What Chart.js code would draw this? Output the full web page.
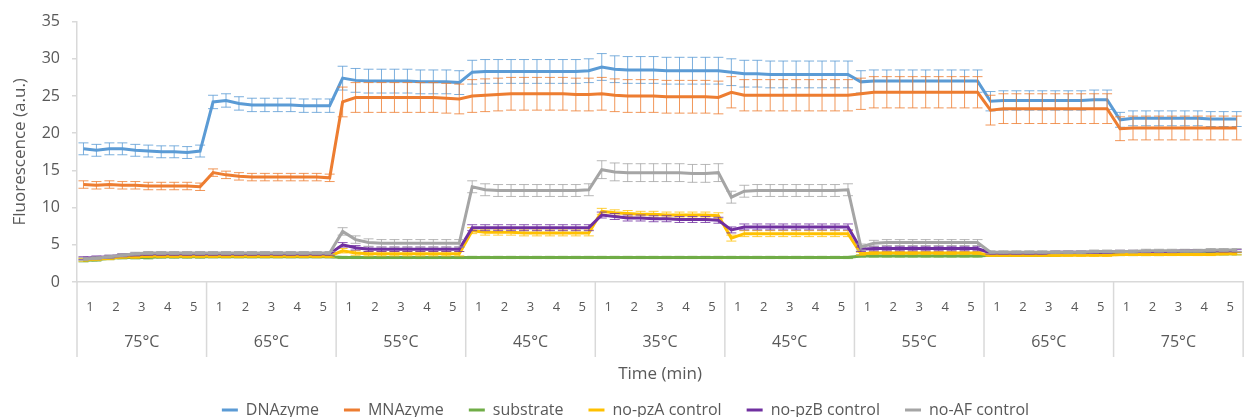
<!DOCTYPE html>
<html>
<head>
<meta charset="utf-8">
<script src="https://cdn.jsdelivr.net/npm/chart.js@4.4.1/dist/chart.umd.min.js"></script>
<style>
  html, body { margin: 0; padding: 0; background: #fff; overflow: hidden; }
  #wrap { position: relative; width: 1251px; height: 417px; }
</style>
</head>
<body>
<div id="wrap"><canvas id="chart"></canvas></div>
<script>
// temperature steps (outer axis level) and minutes inside each step (inner level)
const tempLabels = ['75°C', '65°C', '55°C', '45°C', '35°C', '45°C', '55°C', '65°C', '75°C'];
const minuteLabels = ['1', '2', '3', '4', '5'];
const readsPerMinute = ['a', 'b'];

const seriesNames = ['DNAzyme', 'MNAzyme', 'substrate', 'no-pzA control', 'no-pzB control', 'no-AF control'];

// one row per temperature step, two reads per minute
const dnazyme = [
  17.9, 17.7, 17.9, 17.9, 17.7, 17.6, 17.5, 17.5, 17.4, 17.6,
  24.2, 24.4, 24.0, 23.8, 23.8, 23.8, 23.8, 23.7, 23.7, 23.7,
  27.4, 27.1, 27.0, 27.0, 27.0, 27.0, 26.9, 26.9, 26.9, 26.8,
  28.2, 28.3, 28.3, 28.3, 28.3, 28.3, 28.3, 28.3, 28.3, 28.4,
  28.9, 28.6, 28.5, 28.5, 28.5, 28.4, 28.4, 28.4, 28.4, 28.4,
  28.2, 28.0, 28.0, 27.9, 27.9, 27.9, 27.9, 27.9, 27.9, 27.9,
  26.9, 27.0, 27.0, 27.0, 27.0, 27.0, 27.0, 27.0, 27.0, 27.0,
  24.3, 24.4, 24.4, 24.4, 24.4, 24.4, 24.4, 24.4, 24.5, 24.5,
  21.8, 22.0, 22.0, 22.0, 22.0, 22.0, 22.0, 21.9, 21.9, 21.9
];
const mnazyme = [
  13.1, 13.0, 13.1, 13.0, 13.0, 12.9, 12.9, 12.9, 12.9, 12.8,
  14.7, 14.4, 14.2, 14.1, 14.1, 14.1, 14.1, 14.1, 14.1, 14.0,
  24.2, 24.8, 24.8, 24.8, 24.8, 24.8, 24.8, 24.8, 24.7, 24.6,
  25.0, 25.1, 25.2, 25.3, 25.3, 25.3, 25.3, 25.3, 25.2, 25.2,
  25.3, 25.1, 25.0, 25.0, 25.0, 24.9, 24.9, 24.9, 24.9, 24.8,
  25.5, 25.1, 25.1, 25.1, 25.1, 25.1, 25.1, 25.1, 25.1, 25.1,
  25.3, 25.5, 25.5, 25.5, 25.5, 25.5, 25.5, 25.5, 25.5, 25.5,
  23.1, 23.3, 23.3, 23.3, 23.3, 23.3, 23.3, 23.3, 23.3, 23.3,
  20.6, 20.7, 20.7, 20.7, 20.7, 20.7, 20.7, 20.7, 20.7, 20.7
];
const substrate = [
  2.9, 3.0, 3.2, 3.3, 3.3, 3.3, 3.4, 3.4, 3.4, 3.4,
  3.4, 3.4, 3.4, 3.4, 3.4, 3.4, 3.4, 3.4, 3.4, 3.4,
  3.3, 3.3, 3.3, 3.3, 3.3, 3.3, 3.3, 3.3, 3.3, 3.3,
  3.3, 3.3, 3.3, 3.3, 3.3, 3.3, 3.3, 3.3, 3.3, 3.3,
  3.3, 3.3, 3.3, 3.3, 3.3, 3.3, 3.3, 3.3, 3.3, 3.3,
  3.3, 3.3, 3.3, 3.3, 3.3, 3.3, 3.3, 3.3, 3.3, 3.3,
  3.5, 3.5, 3.5, 3.5, 3.5, 3.5, 3.5, 3.5, 3.5, 3.5,
  3.6, 3.6, 3.6, 3.6, 3.6, 3.6, 3.7, 3.7, 3.7, 3.7,
  3.7, 3.7, 3.7, 3.7, 3.8, 3.8, 3.8, 3.8, 3.8, 3.8
];
const noPzA = [
  3.0, 3.1, 3.2, 3.4, 3.4, 3.5, 3.5, 3.5, 3.5, 3.5,
  3.5, 3.5, 3.5, 3.5, 3.5, 3.5, 3.5, 3.5, 3.5, 3.5,
  4.2, 3.9, 3.8, 3.8, 3.8, 3.8, 3.8, 3.8, 3.8, 3.8,
  6.9, 6.7, 6.7, 6.7, 6.6, 6.6, 6.6, 6.6, 6.6, 6.6,
  9.5, 9.3, 9.2, 9.1, 9.1, 9.0, 9.0, 9.0, 9.0, 8.9,
  5.9, 6.5, 6.5, 6.5, 6.5, 6.5, 6.5, 6.5, 6.5, 6.5,
  3.8, 3.9, 3.9, 3.9, 3.9, 3.9, 3.9, 3.9, 3.9, 3.9,
  3.6, 3.6, 3.6, 3.6, 3.6, 3.6, 3.6, 3.6, 3.6, 3.6,
  3.7, 3.7, 3.7, 3.7, 3.7, 3.7, 3.7, 3.7, 3.8, 3.8
];
const noPzB = [
  3.2, 3.3, 3.4, 3.6, 3.7, 3.8, 3.8, 3.8, 3.8, 3.8,
  3.8, 3.8, 3.8, 3.8, 3.8, 3.8, 3.8, 3.8, 3.8, 3.8,
  5.0, 4.6, 4.4, 4.4, 4.4, 4.4, 4.4, 4.4, 4.4, 4.4,
  7.3, 7.3, 7.3, 7.3, 7.3, 7.3, 7.3, 7.3, 7.3, 7.3,
  9.0, 8.8, 8.6, 8.6, 8.5, 8.5, 8.4, 8.4, 8.4, 8.3,
  7.0, 7.4, 7.4, 7.4, 7.4, 7.4, 7.4, 7.4, 7.4, 7.4,
  4.4, 4.5, 4.5, 4.5, 4.5, 4.5, 4.5, 4.5, 4.5, 4.5,
  3.9, 3.9, 3.9, 3.9, 3.9, 4.0, 4.0, 4.0, 4.0, 4.0,
  4.1, 4.1, 4.1, 4.1, 4.1, 4.2, 4.2, 4.2, 4.2, 4.2
];
const noAf = [
  3.1, 3.2, 3.4, 3.6, 3.8, 3.9, 3.9, 3.9, 3.9, 3.9,
  3.9, 3.9, 3.9, 3.9, 3.9, 3.9, 3.9, 3.9, 3.9, 3.9,
  6.8, 5.7, 5.3, 5.2, 5.2, 5.2, 5.2, 5.2, 5.2, 5.2,
  12.8, 12.4, 12.3, 12.3, 12.3, 12.3, 12.3, 12.3, 12.3, 12.4,
  15.1, 14.8, 14.7, 14.7, 14.7, 14.7, 14.7, 14.6, 14.6, 14.7,
  11.4, 12.2, 12.3, 12.3, 12.3, 12.3, 12.3, 12.3, 12.3, 12.4,
  4.7, 5.2, 5.3, 5.3, 5.3, 5.3, 5.3, 5.3, 5.3, 5.3,
  4.0, 4.0, 4.0, 4.0, 4.0, 4.0, 4.0, 4.0, 4.1, 4.1,
  4.1, 4.1, 4.2, 4.2, 4.2, 4.2, 4.2, 4.3, 4.3, 4.3
];

// error (± a.u.) for each temperature step
const dnazymeErr = [0.8, 0.9, 1.6, 1.6, 1.8, 1.8, 1.5, 1.3, 1.0];
const mnazymeErr = [0.5, 0.5, 2.0, 2.2, 2.2, 2.1, 2.1, 2.0, 1.6];
const substrateErr = [0.2, 0.15, 0.15, 0.15, 0.15, 0.15, 0.15, 0.15, 0.15];
const noPzAErr = [0.2, 0.2, 0.3, 0.4, 0.4, 0.4, 0.2, 0.15, 0.15];
const noPzBErr = [0.2, 0.2, 0.3, 0.4, 0.4, 0.4, 0.3, 0.15, 0.15];
const noAfErr = [0.2, 0.2, 0.5, 0.8, 1.2, 0.8, 0.4, 0.2, 0.2];

const yTicks = [0, 5, 10, 15, 20, 25, 30, 35];

const colors = ['#5b9bd5', '#ed7d31', '#70ad47', '#ffc000', '#7030a0', '#a5a5a5'];
const allValues = [dnazyme, mnazyme, substrate, noPzA, noPzB, noAf];
const allErrors = [dnazymeErr, mnazymeErr, substrateErr, noPzAErr, noPzBErr, noAfErr];

const readingLabels = [];
const minuteAxisLabels = [];
tempLabels.forEach(t => {
  minuteLabels.forEach(m => {
    minuteAxisLabels.push(m);
    readsPerMinute.forEach(r => readingLabels.push(t + ' ' + m + r));
  });
});
const perGroup = readingLabels.length / tempLabels.length;

const textColor = '#595959';
const axisColor = '#d9d9d9';
const fontFamily = "'Open Sans', 'Liberation Sans', sans-serif";

const errorBars = {
  id: 'errorBars',
  afterDatasetDraw(chart, args) {
    const ds = chart.data.datasets[args.index];
    if (!ds.errors) return;
    const yScale = chart.scales.y;
    const ctx = chart.ctx;
    ctx.save();
    ctx.strokeStyle = ds.borderColor;
    ctx.globalAlpha = 0.8;
    ctx.lineWidth = 1;
    args.meta.data.forEach((pt, i) => {
      const e = ds.errors[Math.floor(i / perGroup)];
      const v = ds.data[i];
      const top = yScale.getPixelForValue(v + e);
      const bottom = yScale.getPixelForValue(v - e);
      ctx.beginPath();
      ctx.moveTo(pt.x, top);
      ctx.lineTo(pt.x, bottom);
      ctx.moveTo(pt.x - 5, top);
      ctx.lineTo(pt.x + 5, top);
      ctx.moveTo(pt.x - 5, bottom);
      ctx.lineTo(pt.x + 5, bottom);
      ctx.stroke();
    });
    ctx.restore();
  }
};

// vertical separators between the temperature steps, through both label rows
const groupLines = {
  id: 'groupLines',
  afterDraw(chart) {
    const xScale = chart.scales.x;
    const tempScale = chart.scales.xTemp;
    const ctx = chart.ctx;
    ctx.save();
    ctx.strokeStyle = axisColor;
    ctx.lineWidth = 1.5;
    for (let g = 0; g <= tempLabels.length; g++) {
      const px = xScale.getPixelForValue(g * perGroup - 0.5);
      ctx.beginPath();
      ctx.moveTo(px, chart.chartArea.bottom);
      ctx.lineTo(px, tempScale.top + 30);
      ctx.stroke();
    }
    ctx.restore();
  }
};

const ctx = document.getElementById('chart').getContext('2d');
new Chart(ctx, {
  type: 'line',
  data: {
    labels: readingLabels,
    datasets: seriesNames.map((name, i) => ({
      label: name,
      data: allValues[i],
      errors: allErrors[i],
      borderColor: colors[i],
      backgroundColor: colors[i],
      borderWidth: 3,
      pointRadius: 0,
      tension: 0,
      xAxisID: 'x',
      yAxisID: 'y',
      order: seriesNames.length - 1 - i
    }))
  },
  options: {
    responsive: true,
    maintainAspectRatio: false,
    animation: false,
    devicePixelRatio: 1,
    layout: {
      padding: { top: 20, left: 0, right: 0, bottom: -11 }
    },
    scales: {
      x: {
        type: 'category',
        offset: true,
        display: false
      },
      xMin: {
        type: 'category',
        labels: minuteAxisLabels,
        position: 'bottom',
        offset: true,
        weight: 1,
        grid: { display: false, drawTicks: false },
        border: { display: true, color: axisColor, width: 1.5 },
        ticks: {
          autoSkip: false,
          maxRotation: 0,
          padding: 17,
          color: textColor,
          font: { family: fontFamily, size: 13 }
        },
        afterFit: s => { s.height = 45; }
      },
      xTemp: {
        type: 'category',
        labels: tempLabels,
        position: 'bottom',
        offset: true,
        weight: 2,
        grid: { display: false, drawTicks: false },
        border: { display: false },
        ticks: {
          autoSkip: false,
          maxRotation: 0,
          padding: 6,
          color: textColor,
          font: { family: fontFamily, size: 16 }
        },
        title: {
          display: true,
          text: 'Time (min)',
          color: textColor,
          font: { family: fontFamily, size: 17 },
          padding: { top: 0, bottom: -7 }
        },
        afterFit: s => { s.height = 50; }
      },
      y: {
        min: 0,
        max: 35,
        afterBuildTicks: s => { s.ticks = yTicks.map(v => ({ value: v })); },
        grid: {
          drawOnChartArea: false,
          drawTicks: true,
          tickLength: 5,
          color: axisColor,
          lineWidth: 1.5
        },
        border: { display: true, color: axisColor, width: 1.5 },
        ticks: {
          padding: 12,
          color: textColor,
          font: { family: fontFamily, size: 16 }
        },
        title: {
          display: true,
          text: 'Fluorescence (a.u.)',
          color: textColor,
          font: { family: fontFamily, size: 17 },
          padding: { top: 10, bottom: 0 }
        },
        afterFit: s => { s.width = 77; }
      }
    },
    plugins: {
      legend: {
        position: 'bottom',
        labels: {
          usePointStyle: true,
          pointStyle: 'line',
          pointStyleWidth: 16,
          padding: 25,
          color: textColor,
          font: { family: fontFamily, size: 16 },
          sort: (a, b) => a.datasetIndex - b.datasetIndex
        }
      },
      tooltip: { enabled: false }
    }
  },
  plugins: [errorBars, groupLines]
});
</script>
</body>
</html>
